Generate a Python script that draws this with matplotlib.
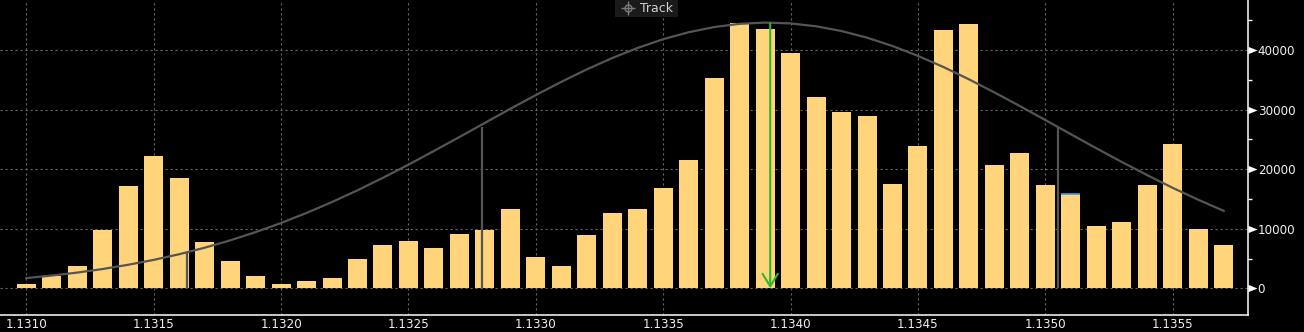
import matplotlib
matplotlib.use('Agg')
import matplotlib.pyplot as plt
from matplotlib.transforms import blended_transform_factory
from matplotlib.patches import Rectangle
from matplotlib.lines import Line2D

# ---- data ----
price = [1.1310, 1.1311, 1.1312, 1.1313, 1.1314, 1.1315, 1.1316, 1.1317, 1.1318, 1.1319,
         1.1320, 1.1321, 1.1322, 1.1323, 1.1324, 1.1325, 1.1326, 1.1327, 1.1328, 1.1329,
         1.1330, 1.1331, 1.1332, 1.1333, 1.1334, 1.1335, 1.1336, 1.1337, 1.1338, 1.1339,
         1.1340, 1.1341, 1.1342, 1.1343, 1.1344, 1.1345, 1.1346, 1.1347, 1.1348, 1.1349,
         1.1350, 1.1351, 1.1352, 1.1353, 1.1354, 1.1355, 1.1356, 1.1357]
volume = [700, 2100, 3700, 9800, 17200, 22200, 18500, 7800, 4600, 2100,
          700, 1200, 1700, 4900, 7300, 7900, 6800, 9100, 9800, 13300,
          5300, 3700, 8900, 12600, 13300, 16800, 21500, 35300, 44500, 43500,
          39500, 32100, 29600, 28900, 17500, 23900, 43400, 44400, 20700, 22700,
          17300, 15800, 10500, 11100, 17300, 24200, 10000, 7300]
curve = [1720, 2140, 2640, 3240, 3950, 4770, 5720, 6810, 8040, 9430,
         10960, 12650, 14480, 16450, 18550, 20750, 23050, 25390, 27760, 30130,
         32430, 34650, 36740, 38650, 40350, 41810, 42980, 43850, 44390, 44600,
         44460, 43980, 43180, 42070, 40670, 39010, 37140, 35080, 32880, 30590,
         28240, 25870, 23510, 21210, 18990, 16860, 14870, 13000]
sigma_x = [1.13163, 1.13279, 1.13505]
sigma_top = [6000, 27100, 27000]
arrow_x = 1.13392
arrow_top = 44500
highlight_price = 1.1351
highlight_value = 15800
xtick_vals = [1.1310, 1.1315, 1.1320, 1.1325, 1.1330, 1.1335, 1.1340, 1.1345, 1.1350, 1.1355]
ytick_vals = [0, 10000, 20000, 30000, 40000]
ytick_minor = [5000, 15000, 25000, 35000, 45000]

W, H = 1304, 332
fig = plt.figure(figsize=(W / 100, H / 100), dpi=100, facecolor='black')
ax = fig.add_axes([0, 17 / H, 1248 / W, 315 / H])
ax.set_facecolor('black')

bar_w = 0.0000746
ax.bar(price, volume, width=bar_w, color='#FFD47A', zorder=2)
ax.hlines(highlight_value, highlight_price - bar_w / 2, highlight_price + bar_w / 2,
          color='#3C9BEA', lw=1.2, zorder=3)
ax.plot(price, curve, color='#555555', lw=1.6, zorder=4)
ax.vlines(sigma_x, 0, sigma_top, color='#555555', lw=1.6, zorder=4)
ax.annotate('', xy=(arrow_x, 0), xytext=(arrow_x, arrow_top),
            arrowprops=dict(arrowstyle='->,head_length=0.9,head_width=0.55',
                            color='#2DB82D', lw=1.5, mutation_scale=10,
                            shrinkA=0, shrinkB=0), zorder=5)

ax.set_xlim(1.1308968, 1.1357955)
ax.set_ylim(-4480, 48390)

ax.set_xticks(xtick_vals)
ax.set_xticklabels([f'{t:.4f}' for t in xtick_vals])
ax.tick_params(axis='x', length=0, pad=2.0, labelcolor='#f0f0f0', labelsize=8.6)

ax.yaxis.tick_right()
ax.set_yticks(ytick_vals)
ax.set_yticklabels([str(v) for v in ytick_vals])
ax.set_yticks(ytick_minor, minor=True)
ax.tick_params(axis='y', which='major', length=0, pad=7.0, labelsize=8.6, labelcolor='#f0f0f0')
ax.tick_params(axis='y', which='minor', length=3, width=1, color='white', direction='out')

ax.set_axisbelow(True)
ax.grid(True, which='major', color='#666666', lw=0.8, linestyle=(0, (2, 2.5)))

for s in ['left', 'top']:
    ax.spines[s].set_visible(False)
for s in ['bottom', 'right']:
    ax.spines[s].set_color('white')
    ax.spines[s].set_linewidth(1.1)

# triangular major tick markers on the right axis
trans = blended_transform_factory(ax.transAxes, ax.transData)
ax.plot([1.0] * len(ytick_vals), ytick_vals, transform=trans, ls='none',
        marker=[(0, -0.4), (1, 0), (0, 0.4)], ms=13, mew=0,
        color='white', clip_on=False, zorder=6)

# "Track" button
fig.add_artist(Rectangle((615 / W, 1 - 17 / H), 63 / W, 17 / H, transform=fig.transFigure,
                         facecolor='#1e1e1e', edgecolor='none', alpha=0.88, zorder=3))
fig.add_artist(Line2D([627.5 / W], [1 - 7.5 / H], transform=fig.transFigure, marker='o',
                      ms=5, mfc='none', mec='#7a7a7a', mew=1, zorder=4))
fig.add_artist(Line2D([627.5 / W], [1 - 7.5 / H], transform=fig.transFigure, marker='+',
                      ms=10, mec='#7a7a7a', mew=1, zorder=4))
fig.text(640.5 / W, 1 - 8 / H, 'Track', va='center', ha='left', color='#d0d0d0',
         fontsize=9, zorder=5)

fig.savefig('out.png', dpi=100, facecolor='black')
